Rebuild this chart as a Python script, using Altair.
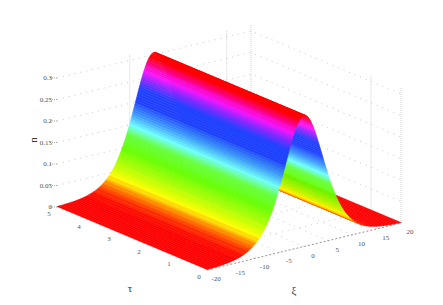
import altair as alt

XI = [-20,-19.5,-19,-18.5,-18,-17.5,-17,-16.5,-16,-15.5,-15,-14.5,-14,-13.5,-13,-12.5,-12,-11.5,-11,-10.5,
      -10,-9.75,-9.5,-9.25,-9,-8.75,-8.5,-8.25,
      -8,-7.875,-7.75,-7.625,-7.5,-7.375,-7.25,-7.125,-7,-6.875,-6.75,-6.625,-6.5,-6.375,-6.25,-6.125,
      -6,-5.875,-5.75,-5.625,-5.5,-5.375,-5.25,-5.125,-5,-4.875,-4.75,-4.625,-4.5,-4.375,-4.25,-4.125,
      -4,-3.875,-3.75,-3.625,-3.5,-3.375,-3.25,-3.125,-3,-2.875,-2.75,-2.625,-2.5,-2.375,-2.25,-2.125,
      -2,-1.875,-1.75,-1.625,-1.5,-1.375,-1.25,-1.125,
      -1,-0.75,-0.5,-0.25,0,0.25,0.5,0.75,
      1,1.125,1.25,1.375,1.5,1.625,1.75,1.875,
      2,2.125,2.25,2.375,2.5,2.625,2.75,2.875,3,3.125,3.25,3.375,3.5,3.625,3.75,3.875,
      4,4.125,4.25,4.375,4.5,4.625,4.75,4.875,5,5.125,5.25,5.375,5.5,5.625,5.75,5.875,
      6,6.125,6.25,6.375,6.5,6.625,6.75,6.875,7,7.125,7.25,7.375,7.5,7.625,7.75,7.875,
      8,8.25,8.5,8.75,9,9.25,9.5,9.75,
      10,10.5,11,11.5,12,12.5,13,13.5,14,14.5,15,15.5,16,16.5,17,17.5,18,18.5,19,19.5,20]
N = [.0011,.0013,.0015,.0018,.0022,.0026,.0030,.0036,.0043,.0052,.0061,.0073,.0087,.0104,.0123,.0146,.0173,.0206,.0244,.0288,
     .0341,.0370,.0402,.0436,.0473,.0513,.0555,.0601,
     .0650,.0676,.0702,.0730,.0758,.0788,.0818,.0850,.0882,.0915,.0949,.0984,.1020,.1058,.1096,.1135,
     .1175,.1216,.1258,.1301,.1344,.1389,.1434,.1481,.1528,.1576,.1624,.1674,.1723,.1774,.1824,.1876,
     .1927,.1979,.2030,.2082,.2133,.2184,.2235,.2286,.2336,.2385,.2434,.2481,.2528,.2574,.2618,.2660,
     .2701,.2740,.2778,.2813,.2847,.2878,.2907,.2933,
     .2958,.2997,.3026,.3044,.3050,.3044,.3026,.2997,
     .2958,.2933,.2907,.2878,.2847,.2813,.2778,.2740,
     .2701,.2660,.2618,.2574,.2528,.2481,.2434,.2385,.2336,.2286,.2235,.2184,.2133,.2082,.2030,.1979,
     .1927,.1876,.1824,.1774,.1723,.1674,.1624,.1576,.1528,.1481,.1434,.1389,.1344,.1301,.1258,.1216,
     .1175,.1135,.1096,.1058,.1020,.0984,.0949,.0915,.0882,.0850,.0818,.0788,.0758,.0730,.0702,.0676,
     .0650,.0601,.0555,.0513,.0473,.0436,.0402,.0370,
     .0341,.0288,.0244,.0206,.0173,.0146,.0123,.0104,.0087,.0073,.0061,.0052,.0043,.0036,.0030,.0026,.0022,.0018,.0015,.0013,.0011]
XI_TICKS = [-20,-15,-10,-5,0,5,10,15,20]
TAU_TICKS = [0,1,2,3,4,5]
N_TICKS = [0,0.05,0.1,0.15,0.2,0.25,0.3]
N_LABELS = ["0","0.05","0.1","0.15","0.2","0.25","0.3"]
UPRIGHT_XI = [-5,15,20]
UPRIGHT_TAU = [0,1]
N_TOP = 0.316
# colour stops
STOP_N = [0, .010, .024, .045, .072, .100, .128, .150, .175, .200, .230, .250, .268, .285, .297, .305]
STOP_C = [(255,0,0),(255,0,0),(255,90,0),(255,255,0),(170,255,0),(102,255,0),(102,255,60),(110,255,255),
          (60,150,255),(32,64,255),(32,64,255),(140,40,255),(255,20,255),(255,0,130),(255,0,0),(255,0,0)]


def proj3d(xi, tau, n):
    return [207 + (xi + 20) * 4.85 - tau * 30, 270 - (xi + 20) * 1.175 - tau * 12.6 - n * 430]


def line(*pts):
    return {"type": "Feature", "geometry": {"type": "LineString", "coordinates": [proj3d(*p) for p in pts]}, "properties": {}}


def cmap(v):
    for j in range(len(STOP_N) - 1):
        if v <= STOP_N[j + 1]:
            f = (v - STOP_N[j]) / (STOP_N[j + 1] - STOP_N[j])
            c = [round(a + (b - a) * f) for a, b in zip(STOP_C[j], STOP_C[j + 1])]
            return "#%02x%02x%02x" % tuple(c)
    return "#ff0000"


LEVELS = [cmap((i + 0.5) / 64 * 0.305) for i in range(64)]

cells = []
for i in range(len(XI) - 2, -1, -1):
    ring = [proj3d(XI[i], 0, N[i]), proj3d(XI[i + 1], 0, N[i + 1]), proj3d(XI[i + 1], 5, N[i + 1]), proj3d(XI[i], 5, N[i]), proj3d(XI[i], 0, N[i])]
    cells.append({"type": "Feature", "geometry": {"type": "Polygon", "coordinates": [ring]}, "properties": {"n": (N[i] + N[i + 1]) / 2}})

level_lines = []
for n in N_TICKS[1:]:
    level_lines.append(line((-20, 5, n), (20, 5, n), (20, 0, n)))
floor_lines = []
for x in XI_TICKS[1:-1]:
    floor_lines.append(line((x, 0, 0), (x, 5, 0)))
for t in TAU_TICKS[1:-1]:
    floor_lines.append(line((-20, t, 0), (20, t, 0)))
floor_lines.append(line((-20, 5, 0), (20, 5, 0), (20, 0, 0)))
upright = []
for x in UPRIGHT_XI:
    upright.append(line((x, 5, 0), (x, 5, N_TOP)))
for t in UPRIGHT_TAU:
    upright.append(line((20, t, 0), (20, t, N_TOP)))
axis_front = [line((-20, 0, 0), (20, 0, 0))]
n_ticks = [line((-20, 5, n), (-21, 5.1, n)) for n in N_TICKS]

labels = []
for x in XI_TICKS:
    p = proj3d(x, 0, 0)
    labels.append({"lon": p[0] + 9, "lat": p[1] + 9, "t": str(x)})
for t in TAU_TICKS:
    p = proj3d(-20, t, 0)
    labels.append({"lon": p[0] - 8, "lat": p[1] + 7, "t": str(t)})
n_labels = []
for n, s in zip(N_TICKS, N_LABELS):
    p = proj3d(-20, 5, n)
    n_labels.append({"lon": p[0] - 5, "lat": p[1], "t": s})

PROJ = dict(type="identity", scale=1, translate=[-8, -8])


def lines(feats, color, dash, width=0.7):
    return alt.Chart(alt.Data(values=feats)).mark_geoshape(filled=False, stroke=color, strokeDash=dash, strokeWidth=width).project(**PROJ)


cscale = alt.Scale(type="quantize", domain=[0, 0.305], range=LEVELS)
surface = alt.Chart(alt.Data(values=cells)).mark_geoshape(strokeWidth=0.5).encode(
    color=alt.Color("properties.n:Q", scale=cscale, legend=None),
    stroke=alt.Stroke("properties.n:Q", scale=cscale, legend=None),
).project(**PROJ)

FONT = "Liberation Serif"


def texts(vals, size, align="center", angle=0, color="#333333", opacity=0.85):
    return alt.Chart(alt.Data(values=vals)).mark_text(
        font=FONT, fontSize=size, color=color, align=align, baseline="middle", angle=angle, opacity=opacity
    ).encode(longitude="lon:Q", latitude="lat:Q", text="t:N").project(**PROJ)


chart = alt.layer(
    lines(level_lines, "#b0b0b0", [1, 5]),
    lines(floor_lines, "#b8b8b8", [1, 5]),
    lines(upright, "#c0c0c0", [1, 1]),
    lines(axis_front, "#666666", [2, 2]),
    lines(n_ticks, "#888888", [1, 1]),
    surface,
    texts(labels, 7),
    texts(n_labels, 7, align="right"),
    texts([{"lon": 130, "lat": 289, "t": "τ"}, {"lon": 294, "lat": 291, "t": "ξ"}], 11, color="#111111"),
    texts([{"lon": 34, "lat": 140, "t": "n"}], 11, angle=270, color="#111111"),
).properties(width=427, height=289, padding=0, autosize="none", background="white").configure_view(stroke=None)

chart.save("out.html", embed_options={"renderer": "svg", "actions": False})
